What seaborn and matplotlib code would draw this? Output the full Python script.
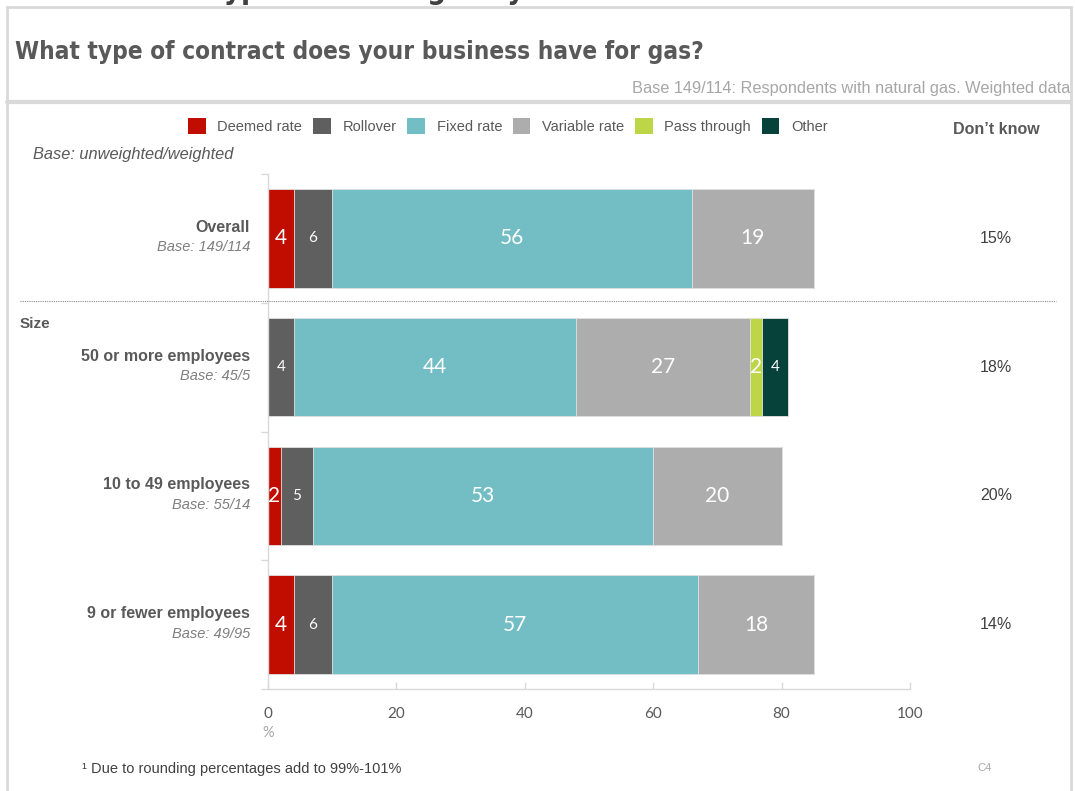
import matplotlib
matplotlib.use("Agg")
import matplotlib.pyplot as plt
from matplotlib.patches import Rectangle, Patch
from matplotlib.lines import Line2D
import seaborn as sns
import numpy as np

# ---- data -------------------------------------------------------------
groups = ["Overall", "50 or more employees", "10 to 49 employees", "9 or fewer employees"]
bases = ["Base: 149/114", "Base: 45/5", "Base: 55/14", "Base: 49/95"]
series = ["Deemed rate", "Rollover", "Fixed rate", "Variable rate", "Pass through", "Other"]
deemed = [4, 0, 2, 4]
rollover = [6, 4, 5, 6]
fixed = [56, 44, 53, 57]
variable = [19, 27, 20, 18]
pass_through = [0, 2, 0, 0]
other = [0, 4, 0, 0]
dont_know = ["15%", "18%", "20%", "14%"]
x_ticks = [0, 20, 40, 60, 80, 100]

colors = ["#c00d00", "#5f5f5f", "#72bec4", "#adadad", "#bcd647", "#06413a"]
big_label = [True, False, True, True, True, False]

W, H = 1075, 791
sns.set_theme(style="white")
plt.rcParams["font.family"] = ["Liberation Sans", "DejaVu Sans"]

fig = plt.figure(figsize=(W / 100, H / 100), dpi=100)


def fx(x):
    return x / W


def fy(y):
    return 1 - y / H


# axes box in pixels: x 268..910 (0..100), y 174..689 (four rows)
ax = fig.add_axes([fx(268), fy(689), fx(910) - fx(268), fy(174) - fy(689)])

values = np.array([deemed, rollover, fixed, variable, pass_through, other], dtype=float)
cum = np.cumsum(values, axis=0)

# stacked bars: draw cumulative totals from the outermost segment inward
for k in range(len(series) - 1, -1, -1):
    sns.barplot(x=cum[k], y=groups, orient="h", color=colors[k], width=0.765,
                edgecolor="#e3e3e3", linewidth=0.6, saturation=1, ax=ax)

ax.set_xlim(0, 100)
ax.set_ylim(3.5, -0.5)
ax.set_xlabel("")
ax.set_ylabel("")

# segment value labels
for k in range(len(series)):
    for i in range(len(groups)):
        v = values[k, i]
        if v <= 0:
            continue
        ax.text(cum[k, i] - v / 2, i, f"{int(v)}", ha="center", va="center",
                color="white", fontsize=15 if big_label[k] else 11,
                family=["Lato", "DejaVu Sans"])

# axes styling
for s in ["top", "right"]:
    ax.spines[s].set_visible(False)
for s in ["left", "bottom"]:
    ax.spines[s].set_color("#d9d9d9")
    ax.spines[s].set_linewidth(1.0)
ax.set_xticks(x_ticks)
ax.set_xticklabels([str(t) for t in x_ticks], family=["Lato", "DejaVu Sans"],
                   fontsize=11, color="#595959")
ax.tick_params(axis="x", direction="in", length=5, width=1, color="#d9d9d9", pad=13,
               bottom=True)
ax.set_yticks(np.arange(-0.5, 4.0, 1.0))
ax.set_yticklabels([])
ax.tick_params(axis="y", direction="out", length=5, width=1, color="#d9d9d9", left=True)

# row labels and "don't know" column
for i, (g, b, d) in enumerate(zip(groups, bases, dont_know)):
    ax.annotate(g, xy=(0, i), xycoords=("axes fraction", "data"), xytext=(-13, 8),
                textcoords="offset points", ha="right", va="center",
                fontsize=11.5, fontweight="bold", color="#595959")
    ax.annotate(b, xy=(0, i), xycoords=("axes fraction", "data"), xytext=(-13, -6.5),
                textcoords="offset points", ha="right", va="center",
                fontsize=10.5, style="italic", color="#7f7f7f")
    ax.annotate(d, xy=(fx(996), i), xycoords=("figure fraction", "data"),
                ha="center", va="center", fontsize=11.5, color="#404040",
                annotation_clip=False)

fig.text(fx(268), fy(733), "%", ha="center", va="center", fontsize=10.5,
         color="#a6a6a6", family=["Lato", "DejaVu Sans"])

# legend
handles = [Patch(facecolor=c, edgecolor="none", label=s) for c, s in zip(colors, series)]
fig.legend(handles=handles, loc="center", bbox_to_anchor=(fx(508), fy(126)), ncol=6,
           frameon=False, fontsize=10.5, handlelength=1.2, handleheight=1.3,
           handletextpad=0.8, columnspacing=0.75, labelcolor="#595959")

fig.text(fx(996), fy(130), "Don\u2019t know", ha="center", va="center", fontsize=11.5,
         fontweight="bold", color="#595959")
fig.text(fx(33), fy(155), "Base: unweighted/weighted", ha="left", va="center",
         fontsize=11.8, style="italic", color="#595959")
fig.text(fx(20), fy(324), "Size", ha="left", va="center", fontsize=11,
         fontweight="bold", color="#595959")

# dotted separator between overall and the size breakdown
fig.add_artist(Line2D([fx(20), fx(1056)], [fy(301), fy(301)], color="#8c8c8c",
                      linestyle=(0, (1, 1)), linewidth=0.8))

# header: frame, title, base note
fig.add_artist(Rectangle((fx(7), fy(795)), fx(1071) - fx(7), fy(7) - fy(795),
                         facecolor="none", edgecolor="#d9d9d9", linewidth=2))
fig.add_artist(Line2D([fx(7), fx(1071)], [fy(102), fy(102)], color="#d9d9d9",
                      linewidth=3))
fig.text(fx(15), fy(52), "What type of contract does your business have for gas?",
         ha="left", va="center", fontsize=17.5, fontweight="bold", color="#595959",
         family=["DejaVu Sans"], stretch="condensed")
fig.text(fx(1070), fy(88), "Base 149/114: Respondents with natural gas. Weighted data",
         ha="right", va="center", fontsize=11.8, color="#a6a6a6",
         family=["Liberation Sans Narrow", "Liberation Sans"])
fig.text(fx(75), fy(-1), "Contract types held for gas by size", ha="left",
         va="baseline", fontsize=21, fontweight="bold", color="#404040",
         family=["DejaVu Sans"], stretch="condensed")

# footer
fig.text(fx(82), fy(769), "\u00b9 Due to rounding percentages add to 99%-101%",
         ha="left", va="center", fontsize=10.5, color="#404040")
fig.text(fx(985), fy(768), "C4", ha="center", va="center", fontsize=8,
         color="#a6a6a6", family=["Liberation Sans Narrow", "Liberation Sans"])

fig.savefig("out.png", dpi=100)
